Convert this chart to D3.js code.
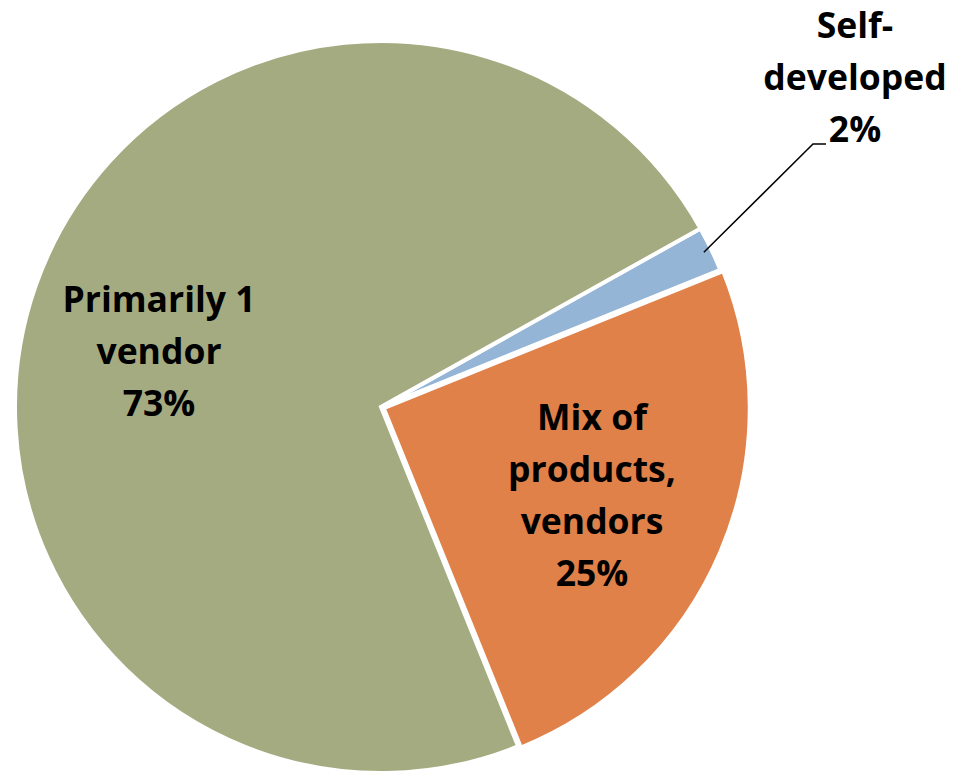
<!DOCTYPE html>
<html><head><meta charset="utf-8">
<script src="https://cdn.jsdelivr.net/npm/d3@7"></script>
<style>html,body{margin:0;padding:0;background:#fff;}svg{display:block;}</style>
</head><body>
<svg id="c" width="953" height="774"></svg>
<script>
const categories = ["Self-developed", "Mix of products, vendors", "Primarily 1 vendor"];
const values = [2, 25, 73];
const labelLines = [["Self-", "developed", "2%"], ["Mix of", "products,", "vendors", "25%"], ["Primarily 1", "vendor", "73%"]];
const colors = ["#95B5D6", "#E0814A", "#A5AB80"];

const svg = d3.select("#c");
const cx = 381, cy = 407, R = 366;
const startDeg = 60.8;
const pie = d3.pie().sort(null).value(d => d)
  .startAngle(startDeg * Math.PI / 180)
  .endAngle((startDeg + 360) * Math.PI / 180);
const arcs = pie(values);
const arc = d3.arc().innerRadius(0).outerRadius(R);
const g = svg.append("g").attr("transform", `translate(${cx},${cy})`);

g.selectAll("path").data(arcs).enter().append("path")
  .attr("d", arc)
  .attr("fill", (d, i) => colors[i])
  .attr("stroke", "#fff").attr("stroke-width", 4).attr("stroke-linejoin", "miter")
  .attr("transform", (d, i) => {
    if (i !== 1) return null;
    const m = (d.startAngle + d.endAngle) / 2, off = 3;
    return `translate(${off * Math.sin(m)},${-off * Math.cos(m)})`;
  });

const font = "'Open Sans', Lato, sans-serif";
const fs = 35.5, lh = 52;
// label anchor positions (first-line baseline, centre x)
const anchors = [[855, 38], [592, 430], [159, 312]];
labelLines.forEach((lines, i) => {
  const t = svg.append("text").attr("text-anchor", "middle")
    .attr("font-family", font).attr("font-weight", "bold").attr("font-size", fs).attr("fill", "#000");
  lines.forEach((ln, j) => {
    t.append("tspan").attr("x", anchors[i][0]).attr("y", anchors[i][1] + j * lh).text(ln);
  });
});

// leader line for the small slice
const a0 = arcs[0];
const mid = (a0.startAngle + a0.endAngle) / 2;
const p0 = [cx + (R - 8) * Math.sin(mid), cy - (R - 8) * Math.cos(mid)];
svg.append("polyline")
  .attr("points", `${p0[0]},${p0[1]} 813,144 826,144`)
  .attr("fill", "none").attr("stroke", "#000").attr("stroke-width", 1.5);
</script>
</body></html>
